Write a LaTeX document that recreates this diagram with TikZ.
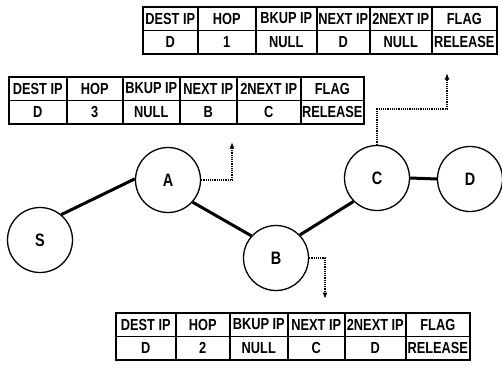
\documentclass[tikz,border=0pt]{standalone}
\usepackage{fontspec}
\setmainfont{Liberation Sans}[FakeStretch=0.8]
\usetikzlibrary{arrows.meta}

\tikzset{
  cell/.style={draw, line width=1.6pt, inner sep=0pt, anchor=north west,
    minimum height=23.5pt, font=\bfseries\fontsize{16}{16}\selectfont},
  station/.style={draw, circle, line width=1.3pt, minimum size=65pt,
    inner sep=0pt, font=\bfseries\fontsize{18}{18}\selectfont},
  link/.style={line width=3pt},
  pointer/.style={densely dotted, line width=1.2pt,
    -{Latex[length=6.5pt,width=5pt]}},
}

\begin{document}
\begin{tikzpicture}[x=1pt, y=-1pt]
\useasboundingbox (0,0) rectangle (502,367);

% routing table kept at C (top)
\foreach \a/\b/\h/\d [count=\i] in {142/197/DEST IP/D, 197/255/HOP/1,
    255/316/BKUP IP/NULL, 316/369/NEXT IP/D, 369/431/2NEXT IP/NULL,
    431/496/FLAG/RELEASE}{
  \node[cell, minimum width={(\b-\a)*1pt}] (ct-h\i) at (\a,6) {\h};
  \node[cell, minimum width={(\b-\a)*1pt}] (ct-d\i) at (\a,29.5) {\d};
}

% routing table kept at A (middle)
\foreach \a/\b/\h/\d [count=\i] in {8/66/DEST IP/D, 66/122/HOP/3,
    122/179/BKUP IP/NULL, 179/236/NEXT IP/B, 236/300/2NEXT IP/C,
    300/363/FLAG/RELEASE}{
  \node[cell, minimum width={(\b-\a)*1pt}] (at-h\i) at (\a,76) {\h};
  \node[cell, minimum width={(\b-\a)*1pt}] (at-d\i) at (\a,99.5) {\d};
}

% routing table kept at B (bottom)
\foreach \a/\b/\h/\d [count=\i] in {115/175/DEST IP/D, 175/229/HOP/2,
    229/287/BKUP IP/NULL, 287/344/NEXT IP/C, 344/405/2NEXT IP/D,
    405/469/FLAG/RELEASE}{
  \node[cell, minimum width={(\b-\a)*1pt}] (bt-h\i) at (\a,312) {\h};
  \node[cell, minimum width={(\b-\a)*1pt}] (bt-d\i) at (\a,335.5) {\d};
}

% stations
\node[station] (S) at (40,240) {S};
\node[station] (A) at (168,180) {A};
\node[station] (B) at (276,258) {B};
\node[station] (C) at (377,178) {C};
\node[station] (D) at (470,179) {D};

% route
\draw[link] (S.50) -- (A.178);
\draw[link] (A.-42) -- (B.138);
\draw[link] (B.44) -- (C.225);
\draw[link] (C.east) -- (D.west);

% table hand-offs
\coordinate (aTip) at (232,142);
\coordinate (bTip) at (325,299);
\coordinate (cTurn) at (447,109);
\coordinate (cTip) at (447,73);
\draw[pointer] (A.east) -| (aTip);
\draw[pointer] (B.east) -| (bTip);
\draw[pointer] (C.north) |- (cTurn) -- (cTip);
\end{tikzpicture}
\end{document}
